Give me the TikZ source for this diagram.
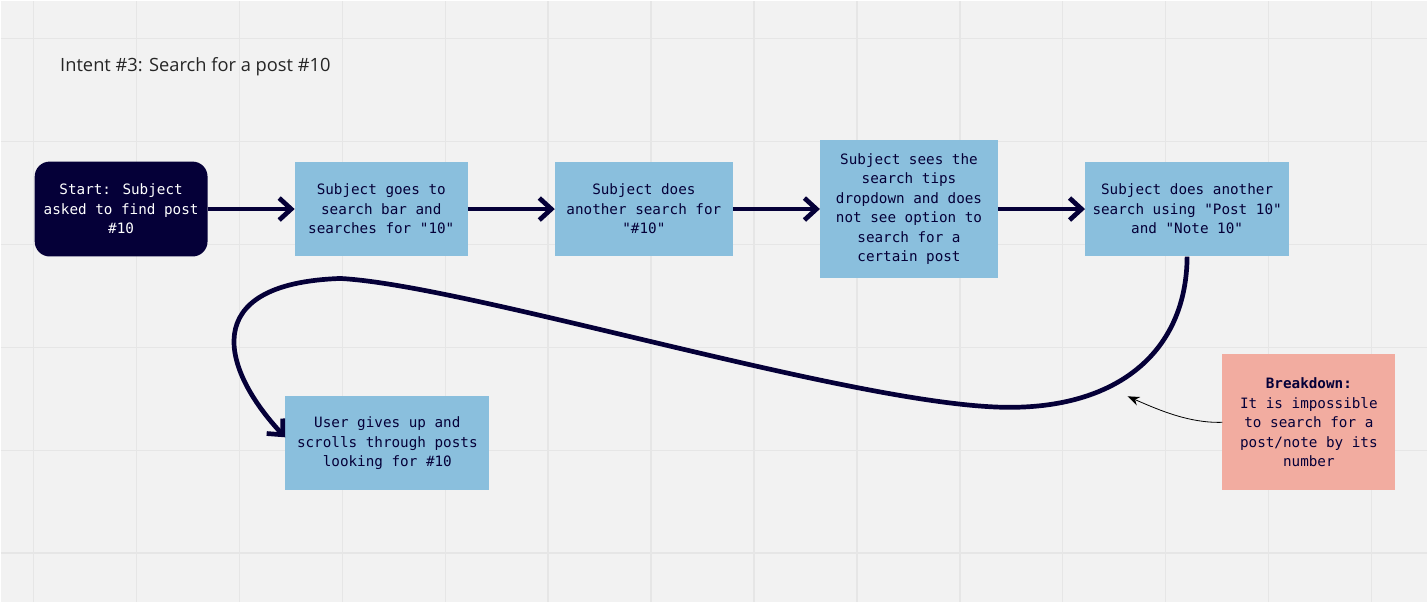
\documentclass[tikz,border=0pt]{standalone}
\usepackage{fontspec}
\setmainfont{Open Sans}
\newfontfamily\boxfont{DejaVu Sans Mono}
\usetikzlibrary{positioning}
\usetikzlibrary{chains}
\usetikzlibrary{arrows.meta}

\definecolor{navy}{HTML}{050038}
\definecolor{stepblue}{HTML}{8ABFDD}
\definecolor{salmon}{HTML}{F2ACA0}
\definecolor{board}{HTML}{F2F2F2}
\definecolor{gridline}{HTML}{E6E6E6}

\begin{document}
\begin{tikzpicture}[x=1pt,y=-1pt,
            node distance = 87pt,
            start chain = going right,
            box/.style = {fill=stepblue,text=navy,align=center,inner sep=0pt,
                minimum height=95pt,font=\boxfont\fontsize{14.3}{19.5}\selectfont},
            startbox/.style = {box,fill=navy,text=white,rounded corners=15pt},
            flow/.style = {draw=navy,line width=4.7pt,
                -{Straight Barb[length=12pt,width=22pt]}},
            note/.style = {draw=black,line width=0.8pt,
                -{Stealth[length=12pt,width=9pt]}}]
            % board and grid
            \fill[board] (0,0) rectangle (1428,602);
            \foreach \gx in {0,...,13}
                \draw[gridline,line width=1.5pt] (33+103*\gx,0) -- (33+103*\gx,602);
            \foreach \gy in {0,...,5}
                \draw[gridline,line width=1.5pt] (0,38+103*\gy) -- (1428,38+103*\gy);
            \useasboundingbox (0,0) rectangle (1428,602);
            \node[anchor=base west,font=\fontsize{18.3}{22}\selectfont,text=black!85]
                (title) at (56,71) {Intent \#3: Search for a post \#10};
            % main flow
            \node[startbox,on chain,minimum width=173pt] (start) at (120.5,208.5)
                {Start: Subject\\asked to find post\\\#10};
            \node[box,on chain,minimum width=173pt] (search1)
                {Subject goes to\\search bar and\\searches for "10"};
            \node[box,on chain,minimum width=178pt] (search2)
                {Subject does\\another search for\\"\#10"};
            \node[box,on chain,minimum width=178pt,minimum height=139pt] (tips)
                {Subject sees the\\search tips\\dropdown and does\\not see option to\\search for a\\certain post};
            \node[box,on chain,minimum width=204pt] (search3)
                {Subject does another\\search using "Post 10"\\and "Note 10"};
            \node[box,minimum width=204pt,minimum height=94pt] (giveup) at (387,443)
                {User gives up and\\scrolls through posts\\looking for \#10};
            \node[box,fill=salmon,minimum width=173pt,minimum height=136pt] (breakdown)
                at (1309.5,422)
                {\textbf{Breakdown:}\\It is impossible\\to search for a\\post/note by its\\number};
            \coordinate (dip) at (1128,396);
            \path
                (start) edge[flow] (search1)
                (search1) edge[flow] (search2)
                (search2) edge[flow] (tips)
                (tips) edge[flow] (search3);
            \draw[flow] (search3.south) .. controls (1187,350) and (1120,407) .. (1010,407)
                .. controls (860,407) and (470,285) .. (340,278)
                .. controls (195,283) and (222,370) .. ([yshift=6pt]giveup.west);
            \draw[note] (breakdown.west) .. controls (1190,423) and (1160,410) .. (dip);
        \end{tikzpicture}
\end{document}
